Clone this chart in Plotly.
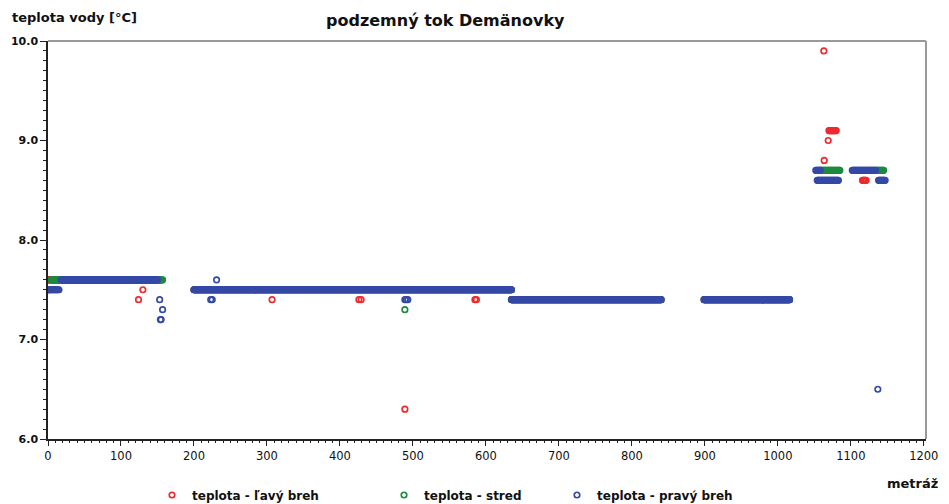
import numpy as np
import plotly.graph_objects as go

# ---- data ----
# runs of constant temperature: (start metráž, end metráž, temperature)
left_runs = [(0, 155, 7.6), (200, 635, 7.5), (635, 840, 7.4), (899, 1016, 7.4),
             (1070, 1080, 9.1), (1116, 1121, 8.6)]
left_pts_x = [124, 130, 307, 426, 429, 491, 489, 585, 587, 1063, 1063.5, 1069]
left_pts_y = [7.4, 7.5, 7.4, 7.4, 7.4, 7.5, 6.3, 7.4, 7.4, 9.9, 8.8, 9.0]

mid_runs = [(4, 157, 7.6), (200, 635, 7.5), (635, 840, 7.4), (899, 1016, 7.4),
            (1058, 1085, 8.7), (1135, 1145, 8.7)]
mid_pts_x = [489]
mid_pts_y = [7.3]

right_runs = [(0, 15, 7.5), (18, 150, 7.6), (200, 635, 7.5), (635, 840, 7.4),
              (899, 1016, 7.4), (1054, 1083, 8.6), (1052, 1058, 8.7),
              (1102, 1134, 8.7), (1138, 1147, 8.6)]
right_pts_x = [153, 157, 154, 155, 231, 223, 225, 489, 491, 493, 1137]
right_pts_y = [7.4, 7.3, 7.2, 7.2, 7.6, 7.4, 7.4, 7.4, 7.4, 7.4, 6.5]

x_ticks = list(range(0, 1201, 100))
y_ticks = [6.0, 7.0, 8.0, 9.0, 10.0]
names = ["teplota - ľavý breh", "teplota - stred", "teplota - pravý breh"]
colors = ["#EE2A2E", "#1E8A3E", "#3549A6"]


def expand(runs, px, py):
    xs, ys = [], []
    for a, b, v in runs:
        for m in np.arange(a, b + 0.001, 1.0):
            xs.append(float(m))
            ys.append(v)
    xs += list(px)
    ys += list(py)
    return xs, ys


series = [expand(left_runs, left_pts_x, left_pts_y),
          expand(mid_runs, mid_pts_x, mid_pts_y),
          expand(right_runs, right_pts_x, right_pts_y)]

FONT = "DejaVu Sans"
fig = go.Figure()
legs = ["legend", "legend2", "legend3"]
for (xs, ys), nm, col, lg in zip(series, names, colors, legs):
    fig.add_trace(go.Scatter(
        x=xs, y=ys, mode="markers", name=nm, legend=lg,
        marker=dict(symbol="circle-open", size=5.5, color=col,
                    line=dict(width=1.7, color=col)),
    ))

L, R, T, B = 48, 23, 41, 65
W, H = 949, 504
pw, ph = W - L - R, H - T - B


def px2x(px):
    return (px - L) / pw


def py2y(py):
    return (H - B - py) / ph


leg_common = dict(orientation="h", yanchor="middle", xanchor="left",
                  bgcolor="rgba(0,0,0,0)", borderwidth=0,
                  font=dict(family=FONT, size=12, color="#111"),
                  itemwidth=30)
text_x = [192, 424, 597]
layout_legs = {}
for lg, tx in zip(legs, text_x):
    layout_legs[lg] = dict(leg_common, x=px2x(tx - 40), y=py2y(495))

fig.update_layout(
    width=W, height=H,
    margin=dict(l=L, r=R, t=T, b=B, autoexpand=False),
    paper_bgcolor="white", plot_bgcolor="white",
    showlegend=True,
    font=dict(family=FONT, color="#111"),
    xaxis=dict(range=[0, 1203], tickvals=x_ticks, ticktext=[str(v) for v in x_ticks],
               showgrid=False, zeroline=False, showline=True, linecolor="#222", linewidth=1.5,
               ticks="outside", ticklen=5, tickwidth=1.2, tickcolor="#222",
               minor=dict(dtick=10, ticks="outside", ticklen=2.5, tickcolor="#222", tickwidth=1),
               tickfont=dict(family=FONT, size=11.5, color="#111")),
    yaxis=dict(range=[6.0, 10.0], tickvals=y_ticks, ticktext=["%.1f" % v for v in y_ticks],
               showgrid=False, zeroline=False, showline=True, linecolor="#222", linewidth=1.5,
               ticks="outside", ticklen=6, tickwidth=1.2, tickcolor="#222",
               minor=dict(dtick=0.1, ticks="outside", ticklen=3, tickcolor="#222", tickwidth=1),
               tickfont=dict(family=FONT, size=11, color="#111", weight="bold")),
    shapes=[
        dict(type="line", xref="paper", yref="paper", x0=0, x1=1, y0=1, y1=1,
             line=dict(color="#9a9a9a", width=2)),
        dict(type="line", xref="paper", yref="paper", x0=1, x1=1, y0=0, y1=1,
             line=dict(color="#9a9a9a", width=2)),
    ],
    annotations=[
        dict(text="<b>podzemný tok Demänovky</b>", xref="paper", yref="paper",
             x=px2x(445), y=py2y(20), xanchor="center", yanchor="middle", showarrow=False,
             font=dict(family=FONT, size=16, color="#111")),
        dict(text="<b>teplota vody [°C]</b>", xref="paper", yref="paper",
             x=px2x(10), y=py2y(18), xanchor="left", yanchor="middle", showarrow=False,
             font=dict(family=FONT, size=13, color="#111")),
        dict(text="<b>metráž</b>", xref="paper", yref="paper",
             x=px2x(940), y=py2y(483), xanchor="right", yanchor="middle", showarrow=False,
             font=dict(family=FONT, size=13, color="#111")),
    ],
    **layout_legs,
)
for lg in legs:
    fig.layout[lg].font.weight = "bold"

fig.write_html("out.html")
